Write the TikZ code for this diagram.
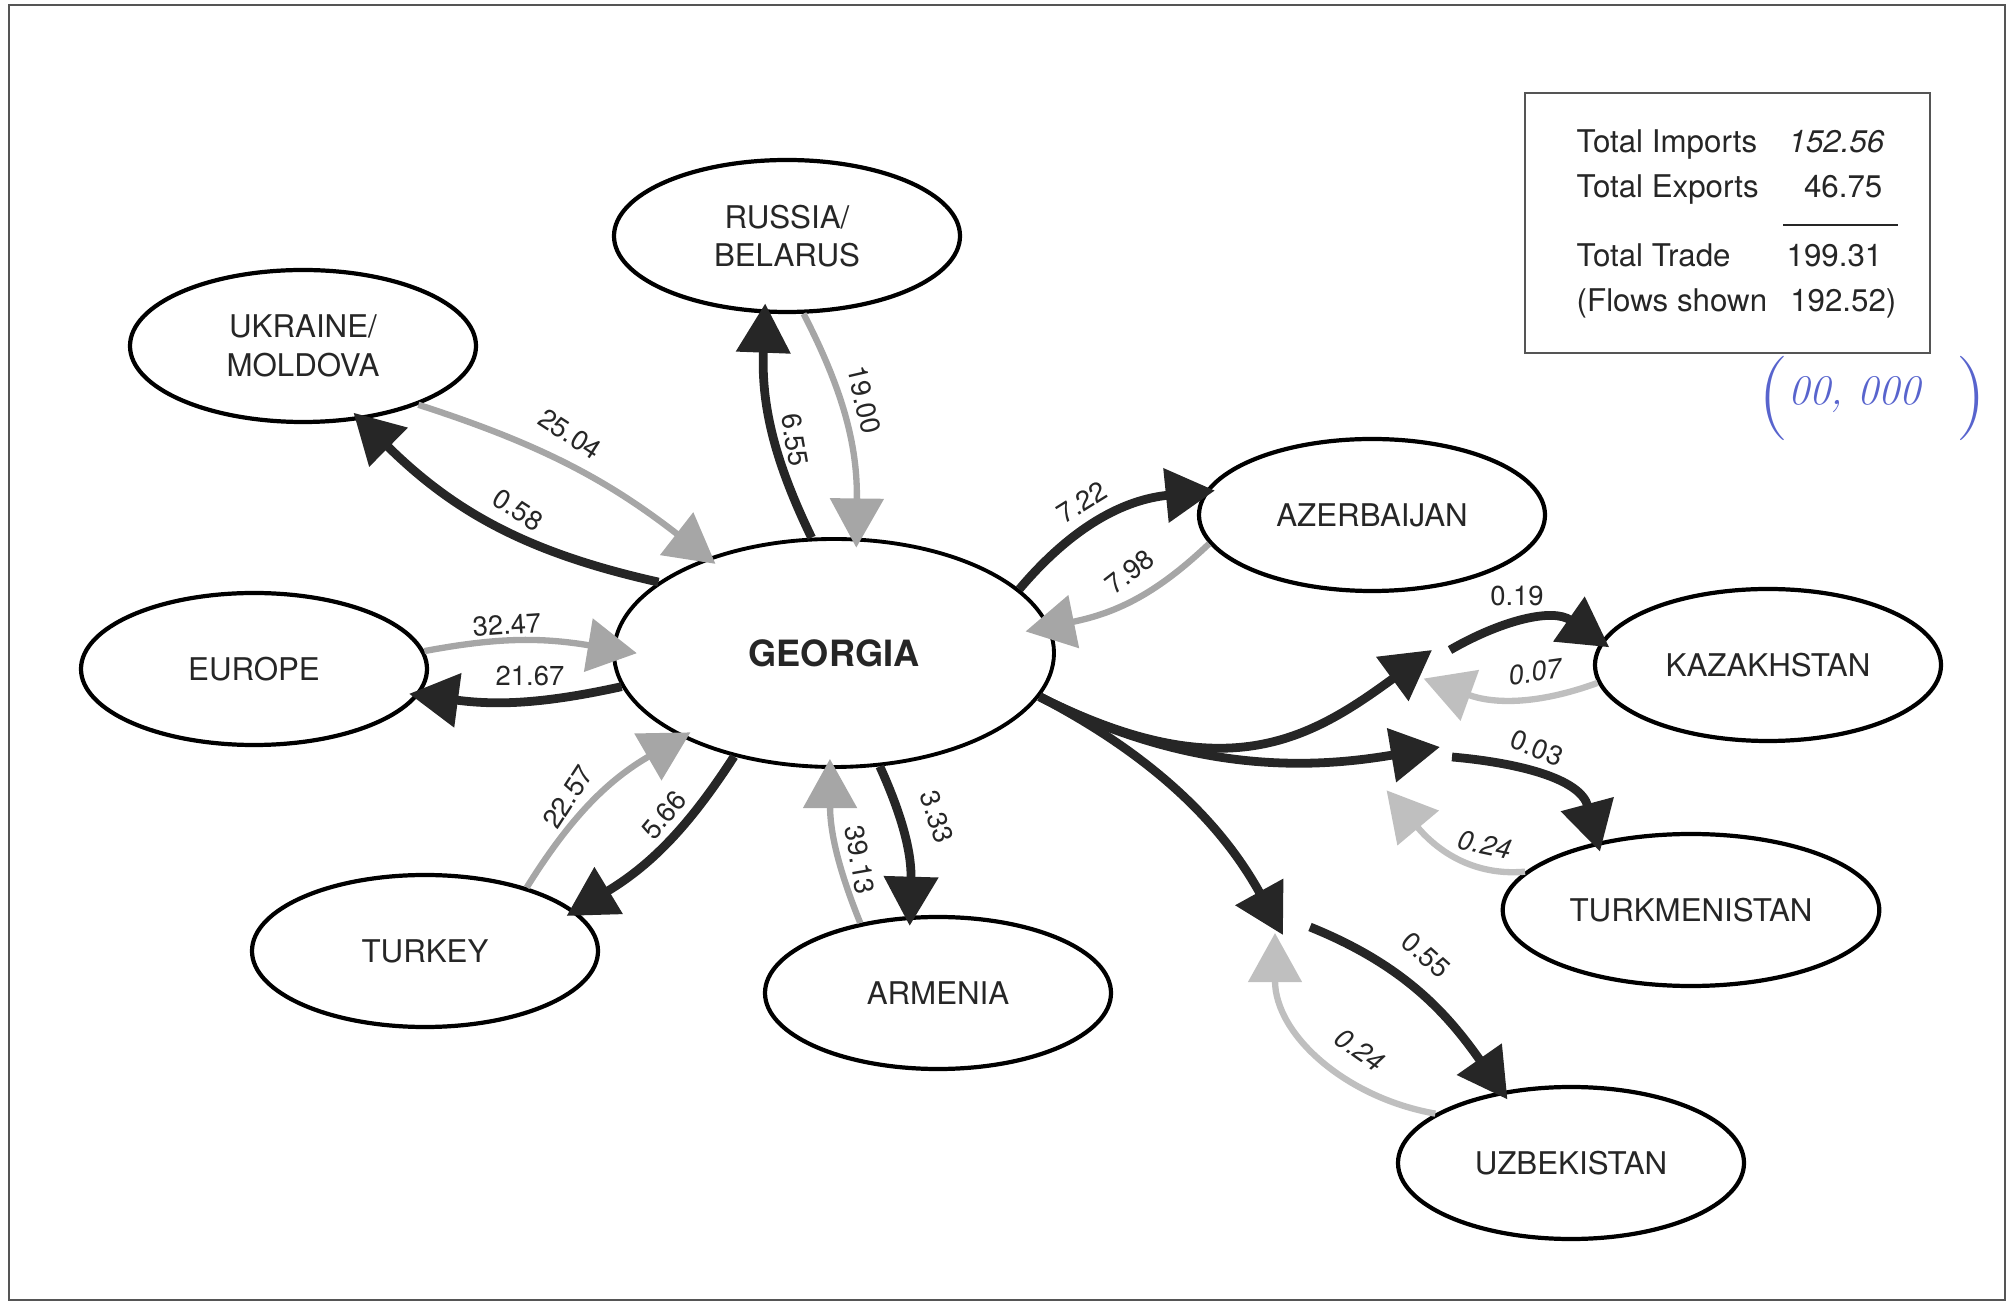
\documentclass[tikz,border=0pt]{standalone}
\usepackage{fontspec}
\setsansfont{TeX Gyre Heros}
\renewcommand{\familydefault}{\sfdefault}
\usetikzlibrary{arrows.meta,shapes.geometric}
\definecolor{inkblue}{RGB}{88,100,205}
\definecolor{framegray}{RGB}{85,85,85}

\begin{document}
\begin{tikzpicture}[
    country/.style={ellipse,draw,line width=1.2pt,minimum width=3.46cm,minimum height=1.52cm,align=center,font=\fontsize{8.9}{11}\selectfont,text=black!85},
    hub/.style={ellipse,draw,line width=1.1pt,minimum width=4.40cm,minimum height=2.28cm,font=\bfseries\fontsize{10.3}{12}\selectfont,text=black!85},
    expflow/.style={draw=black!85,line width=2.5pt,-{Triangle[length=14pt,width=15pt]},shorten >=-1mm},
    impflow/.style={draw=black!35,line width=1.8pt,-{Triangle[length=14pt,width=15pt]},shorten >=-1mm},
    val/.style={font=\fontsize{7.8}{9}\selectfont,inner sep=1pt,text=black!85},
    legtext/.style={font=\fontsize{8.9}{11}\selectfont,inner sep=0pt,text=black!85},
  ]
        \useasboundingbox (0,0) rectangle (20.12,-13.03);
        \draw [framegray, line width=0.8pt] (0.09,-0.05) rectangle (20.05,-13.00);

% totals
        \draw [framegray, line width=0.7pt] (15.25,-0.93) rectangle (19.30,-3.53);
        \node[legtext,anchor=base west] (timp)  at (15.76,-1.53) {Total Imports};
        \node[legtext,anchor=base east] (timpv) at (18.85,-1.53) {\itshape 152.56};
        \node[legtext,anchor=base west] (texp)  at (15.76,-1.98) {Total Exports};
        \node[legtext,anchor=base east] (texpv) at (18.83,-1.98) {46.75};
        \draw [black!85, line width=0.6pt] (17.83,-2.25) -- (18.98,-2.25);
        \node[legtext,anchor=base west] (ttr)   at (15.76,-2.67) {Total Trade};
        \node[legtext,anchor=base east] (ttrv)  at (18.83,-2.67) {199.31};
        \node[legtext,anchor=base west] (tfl)   at (15.76,-3.12) {(Flows shown};
        \node[legtext,anchor=base east] (tflv)  at (18.97,-3.12) {192.52)};
        \node[text=inkblue,inner sep=0pt] (units) at (18.72,-3.98)
          {\rmfamily{\fontsize{24}{24}\selectfont(}{\itshape\fontsize{12}{12}\selectfont\raisebox{4pt}{00,\ 000}}\hspace{10pt}{\fontsize{24}{24}\selectfont)}};

% countries
        \node[hub]     (geo) at (8.34,-6.53)  {GEORGIA};
        \node[country] (rus) at (7.87,-2.36)  {RUSSIA/\\BELARUS};
        \node[country] (ukr) at (3.03,-3.46)  {UKRAINE/\\MOLDOVA};
        \node[country] (eur) at (2.54,-6.69)  {EUROPE};
        \node[country] (tur) at (4.25,-9.51)  {TURKEY};
        \node[country] (arm) at (9.38,-9.93)  {ARMENIA};
        \node[country] (aze) at (13.72,-5.15) {AZERBAIJAN};
        \node[country] (kaz) at (17.68,-6.65) {KAZAKHSTAN};
        \node[country] (tkm) at (16.91,-9.10) {TURKMENISTAN};
        \node[country] (uzb) at (15.71,-11.63) {UZBEKISTAN};

% direct flows
        \draw [expflow] (geo.101) to[bend left=14] (rus.254);
        \draw [impflow] (rus.-78) to[bend left=14] (geo.79);
        \node[val,rotate=-80] (v655)  at (7.95,-4.40) {6.55};
        \node[val,rotate=-77] (v1900) at (8.64,-4.00) {19.00};

        \draw [expflow] (geo.158) to[bend left=16] (ukr.-52);
        \draw [impflow] (ukr.-27) to[bend left=10] (geo.143);
        \node[val,rotate=-33] (v2504) at (5.70,-4.34) {25.04};
        \node[val,rotate=-33] (v058)  at (5.18,-5.10) {0.58};

        \draw [impflow,shorten >=-2.5mm] (eur.6) to[bend left=10] (geo.179);
        \draw [expflow] (geo.189) to[bend left=10] (eur.-9);
        \node[val,rotate=4] (v3247) at (5.07,-6.25) {32.47};
        \node[val]          (v2167) at (5.30,-6.76) {21.67};

        \draw [impflow] (tur.32) to[bend left=14] (geo.209);
        \draw [expflow] (geo.226) to[bend left=13] (tur.15);
        \node[val,rotate=57] (v2257) at (5.68,-7.97) {22.57};
        \node[val,rotate=50] (v566)  at (6.64,-8.15) {5.66};

        \draw [impflow] (arm.138) to[bend left=11] (geo.-92);
        \draw [expflow] (geo.-68) to[bend left=13] (arm.110);
        \node[val,rotate=-80] (v3913) at (8.60,-8.60) {39.13};
        \node[val,rotate=-72] (v333)  at (9.37,-8.17) {3.33};

        \draw [expflow] (geo.19) to[bend left=22] (aze.172);
        \draw [impflow,shorten >=-2.5mm] (aze.190) to[bend left=16] (geo.7);
        \node[val,rotate=32] (v722) at (10.82,-5.02) {7.22};
        \node[val,rotate=38] (v798) at (11.30,-5.72) {7.98};

% central asia, through junctions
        \coordinate (kzJ) at (14.32,-6.50);
        \coordinate (kzK) at (14.50,-6.50);
        \coordinate (kzG) at (14.33,-6.82);
        \coordinate (tmJ) at (14.40,-7.47);
        \coordinate (tmK) at (14.52,-7.57);
        \coordinate (tmG) at (13.93,-7.98);
        \coordinate (uzJ) at (12.83,-9.35);
        \coordinate (uzK) at (13.10,-9.27);
        \coordinate (uzG) at (12.75,-9.43);

        \draw [expflow,shorten >=0pt] (geo.-12) .. controls (12.25,-7.90) and (13.09,-7.40) .. (kzJ);
        \draw [expflow,shorten >=0pt] (geo.-12) .. controls (11.97,-7.78) and (13.22,-7.67) .. (tmJ);
        \draw [expflow,shorten >=0pt] (geo.-12) .. controls (11.71,-7.65) and (12.30,-8.39) .. (uzJ);

        \draw [expflow] (kzK) to[out=30,in=145] (kaz.172);
        \draw [impflow,draw=black!25] (kaz.186) to[out=200,in=-20] (kzG);
        \node[val] (v019) at (15.17,-5.96) {0.19};
        \node[val,rotate=8] (v007) at (15.35,-6.72) {\itshape 0.07};

        \draw [expflow] (tmK) to[out=-5,in=105] (tkm.144);
        \draw [impflow,draw=black!25] (tkm.167) to[out=185,in=-50] (tmG);
        \node[val,rotate=-22] (v003) at (15.37,-7.48) {0.03};
        \node[val,rotate=-12] (v024a) at (14.85,-8.45) {\itshape 0.24};

        \draw [expflow] (uzK) to[out=-22,in=125] (uzb.134);
        \draw [impflow,draw=black!25] (uzb.160) to[out=170,in=-90] (uzG);
        \node[val,rotate=-42] (v055) at (14.26,-9.55) {0.55};
        \node[val,rotate=-35] (v024b) at (13.60,-10.50) {\itshape 0.24};
    \end{tikzpicture}
\end{document}
